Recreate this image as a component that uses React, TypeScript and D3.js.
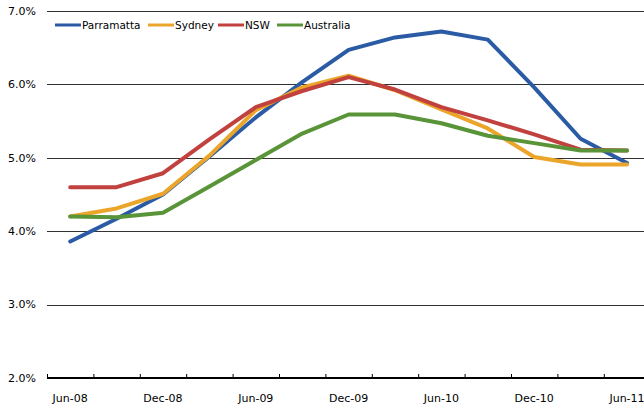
import React from 'react';
import * as d3 from 'd3';

// Quarterly categories, Jun-08 .. Jun-11
const quarters = [
  'Jun-08', 'Sep-08', 'Dec-08', 'Mar-09', 'Jun-09', 'Sep-09', 'Dec-09',
  'Mar-10', 'Jun-10', 'Sep-10', 'Dec-10', 'Mar-11', 'Jun-11',
];
const labelled = ['Jun-08', 'Dec-08', 'Jun-09', 'Dec-09', 'Jun-10', 'Dec-10', 'Jun-11'];
const yTicks = [2, 3, 4, 5, 6, 7];

const parramatta = [3.86, 4.17, 4.5, 5.02, 5.55, 6.03, 6.47, 6.64, 6.72, 6.61, 5.96, 5.26, 4.93];
const sydney = [4.2, 4.31, 4.51, 5.03, 5.65, 5.96, 6.12, 5.92, 5.66, 5.4, 5.01, 4.91, 4.91];
const nsw = [4.6, 4.6, 4.79, 5.25, 5.69, 5.91, 6.1, 5.93, 5.69, 5.51, 5.32, 5.11, 5.1];
const australia = [4.2, 4.19, 4.25, 4.61, 4.97, 5.33, 5.59, 5.59, 5.47, 5.3, 5.2, 5.1, 5.1];

const series = [
  { name: 'Parramatta', values: parramatta, color: '#2B5BA5' },
  { name: 'Sydney', values: sydney, color: '#EBA52A' },
  { name: 'NSW', values: nsw, color: '#C0413E' },
  { name: 'Australia', values: australia, color: '#5A9438' },
];

const W = 644;
const H = 408;
const font = '"DejaVu Sans", Verdana, sans-serif';

const App = () => {
  const x = d3.scaleBand<string>().domain(quarters).range([47, 47 + 13 * 46.4]);
  const y = d3.scaleLinear().domain([2, 7]).range([378, 11]);

  const line = d3.line<number>()
    .x((_, i) => (x(quarters[i]) ?? 0) + x.bandwidth() / 2)
    .y(d => y(d));

  const legendX = [55, 148, 218, 277];

  return (
    <svg width={W} height={H} style={{ position: 'absolute', left: 0, top: 0 }}
      fontFamily={font}>
      <rect width={W} height={H} fill="#fff" />
      {/* gridlines */}
      {yTicks.filter(t => t > 2).map(t => (
        <line key={t} x1={47} x2={W} y1={Math.round(y(t)) + 0.5} y2={Math.round(y(t)) + 0.5}
          stroke="#333" strokeWidth={1} />
      ))}
      {/* y labels */}
      {yTicks.map(t => (
        <text key={t} x={36} y={y(t)} dy="0.35em" textAnchor="end" fontSize={11} fill="#000">
          {t.toFixed(1)}%
        </text>
      ))}
      {/* x axis */}
      <line x1={47} x2={W} y1={y(2)} y2={y(2)} stroke="#000" strokeWidth={2} />
      {quarters.map(q => (
        <line key={q} x1={(x(q) ?? 0) + 0.5} x2={(x(q) ?? 0) + 0.5} y1={y(2)} y2={y(2) - 4}
          stroke="#000" strokeWidth={1} />
      ))}
      {labelled.map(q => (
        <text key={q} x={(x(q) ?? 0) + x.bandwidth() / 2} y={402} textAnchor="middle"
          fontSize={11} fill="#000">
          {q}
        </text>
      ))}
      {/* lines */}
      {series.map(s => (
        <path key={s.name} d={line(s.values) ?? ''} fill="none" stroke={s.color}
          strokeWidth={4} strokeLinejoin="round" strokeLinecap="round" />
      ))}
      {/* legend */}
      {series.map((s, i) => (
        <g key={s.name} transform={`translate(${legendX[i]},25)`}>
          <line x1={0} x2={26} y1={0} y2={0} stroke={s.color} strokeWidth={3} />
          <text x={27} y={0} dy="0.35em" fontSize={10.5} fill="#000">{s.name}</text>
        </g>
      ))}
    </svg>
  );
};

export default App;
